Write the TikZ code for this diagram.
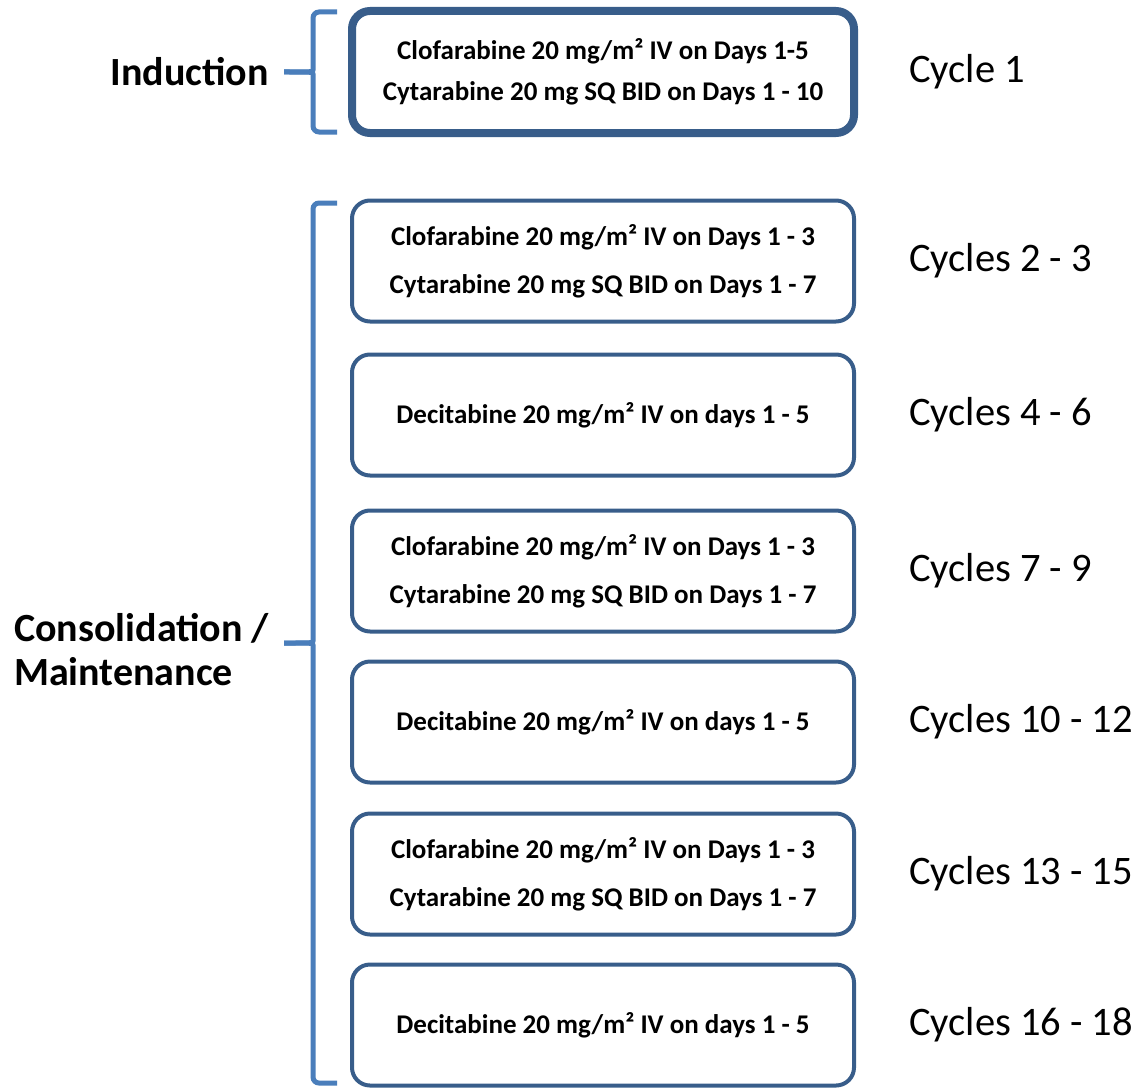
\documentclass[tikz,border=0pt]{standalone}
\usepackage{fontspec}
\setmainfont{Carlito}
\usetikzlibrary{positioning}
\definecolor{boxblue}{RGB}{56,93,138}
\definecolor{braceblue}{RGB}{74,126,187}
\newcommand{\clocyt}{Clofarabine 20 mg/m² IV on Days 1 - 3\\Cytarabine 20 mg SQ BID on Days 1 - 7}
\newcommand{\decit}{Decitabine 20 mg/m² IV on days 1 - 5}
\tikzset{
  regimen/.style={draw=boxblue, line width=4pt, rounded corners=18pt,
    minimum width=502pt, minimum height=121pt, align=center,
    font=\bfseries\fontsize{27}{48}\selectfont},
  cyclabel/.style={inner sep=0pt, font=\fontsize{40.5}{44}\selectfont},
  stagelabel/.style={inner sep=0pt, align=left, font=\bfseries\fontsize{40}{44}\selectfont},
  bracket/.style={draw=braceblue, line width=5pt, rounded corners=6pt}
}
\begin{document}
\begin{tikzpicture}[x=1pt, y=-1pt]
    \useasboundingbox (0,0) rectangle (1147,1089);
    % induction
    \node[regimen, line width=8pt, minimum height=122pt, font=\bfseries\fontsize{27}{41}\selectfont] (box1) at (603,72)
        {Clofarabine 20 mg/m² IV on Days 1-5\\Cytarabine 20 mg SQ BID on Days 1 - 10};
    \node[cyclabel, right=51pt of box1] (cyc1) {Cycle 1};
    % consolidation / maintenance
    \foreach \i/\y/\drug/\cyc in {2/261/\clocyt/2 - 3, 3/415/\decit/4 - 6, 4/571/\clocyt/7 - 9,
        5/722/\decit/10 - 12, 6/874/\clocyt/13 - 15, 7/1025/\decit/16 - 18}{
        \node[regimen] (box\i) at (603,\y) {\drug};
        \node[cyclabel, right=53pt of box\i] (cyc\i) {Cycles \cyc};
    }
    % braces
    \coordinate (indTip) at (284,72);
    \coordinate (conTip) at (284,643);
    \draw[bracket] (337,12) -| (313,64) .. controls (313,72) .. (indTip);
    \draw[bracket] (337,132) -| (313,80) .. controls (313,72) .. (indTip);
    \draw[bracket] (337,203) -| (313,635) .. controls (313,643) .. (conTip);
    \draw[bracket] (337,1083) -| (313,651) .. controls (313,643) .. (conTip);
    \node[stagelabel, left=15pt of indTip] (induction) {Induction};
    \node[stagelabel, anchor=west] (consol) at (14,650) {Consolidation /\\Maintenance};
\end{tikzpicture}
\end{document}
